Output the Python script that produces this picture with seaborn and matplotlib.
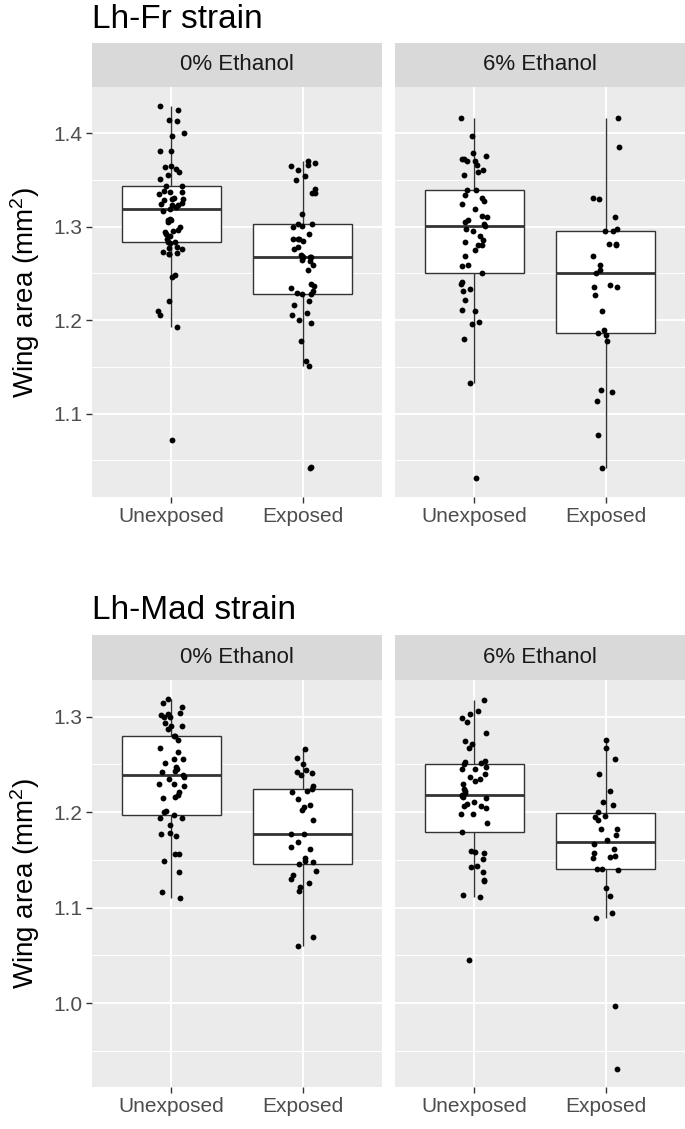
import numpy as np
import pandas as pd
import matplotlib
matplotlib.use("Agg")
import matplotlib.pyplot as plt
import seaborn as sns

# ---------------- data ----------------
groups = ["Unexposed", "Exposed"]
ethanol = ["0% Ethanol", "6% Ethanol"]
strains = ["Lh-Fr strain", "Lh-Mad strain"]
y_label = r"Wing area (mm$^{2}$)"

fr_e0_unexposed = [1.4295, 1.4249, 1.4142, 1.4135, 1.4000, 1.3975, 1.3812, 1.3812, 1.3638, 1.3645,
                   1.3620, 1.3584, 1.3549, 1.3510, 1.3440, 1.3439, 1.3385, 1.3371, 1.3371, 1.3350,
                   1.3307, 1.3300, 1.3290, 1.3297, 1.3250, 1.3243, 1.3229, 1.3236, 1.3210, 1.3194,
                   1.3165, 1.3069, 1.3048, 1.3083, 1.3066, 1.3000, 1.2959, 1.2924, 1.2952, 1.2941,
                   1.2900, 1.2863, 1.2835, 1.2835, 1.2828, 1.2780, 1.2774, 1.2757, 1.2730, 1.2721,
                   1.2703, 1.2703, 1.2483, 1.2462, 1.2206, 1.2092, 1.2057, 1.1928, 1.0721]
fr_e0_exposed = [1.3705, 1.3680, 1.3663, 1.3652, 1.3609, 1.3545, 1.3496, 1.3403, 1.3361, 1.3361,
                 1.3130, 1.3023, 1.2995, 1.3023, 1.3005, 1.2917, 1.2845, 1.2863, 1.2863, 1.2863,
                 1.2785, 1.2757, 1.2693, 1.2686, 1.2675, 1.2675, 1.2675, 1.2639, 1.2632, 1.2586,
                 1.2536, 1.2391, 1.2366, 1.2348, 1.2313, 1.2295, 1.2284, 1.2284, 1.2206, 1.2160,
                 1.2071, 1.2057, 1.2004, 1.1968, 1.1780, 1.1560, 1.1506, 1.0430, 1.0412]
fr_e6_unexposed = [1.4160, 1.3975, 1.3787, 1.3726, 1.3698, 1.3655, 1.3609, 1.3751, 1.3726, 1.3698,
                   1.3584, 1.3549, 1.3396, 1.3396, 1.3343, 1.3307, 1.3272, 1.3243, 1.3190, 1.3119,
                   1.3101, 1.3076, 1.3048, 1.3030, 1.3012, 1.2977, 1.2952, 1.2899, 1.2853, 1.2838,
                   1.2799, 1.2799, 1.2750, 1.2686, 1.2579, 1.2586, 1.2508, 1.2409, 1.2391, 1.2330,
                   1.2306, 1.2217, 1.2110, 1.2099, 1.1975, 1.1957, 1.1798, 1.1329, 1.0306]
fr_e6_exposed = [1.4160, 1.3851, 1.3297, 1.3307, 1.3105, 1.2970, 1.2952, 1.2952, 1.2817, 1.2817,
                 1.2799, 1.2686, 1.2586, 1.2533, 1.2508, 1.2359, 1.2359, 1.2373, 1.2270, 1.2092,
                 1.1897, 1.1858, 1.1844, 1.1773, 1.1247, 1.1229, 1.1130, 1.0774, 1.0419]

mad_e0_unexposed = [1.3190, 1.3138, 1.3097, 1.3041, 1.3017, 1.3028, 1.3000, 1.3000, 1.2931, 1.2897,
                    1.2903, 1.2869, 1.2793, 1.2793, 1.2759, 1.2672, 1.2628, 1.2559, 1.2559, 1.2510,
                    1.2476, 1.2448, 1.2430, 1.2421, 1.2372, 1.2386, 1.2350, 1.2300, 1.2293, 1.2269,
                    1.2207, 1.2155, 1.2179, 1.2145, 1.2017, 1.2007, 1.1966, 1.1938, 1.1938, 1.1862,
                    1.1783, 1.1776, 1.1752, 1.1559, 1.1559, 1.1493, 1.1379, 1.1166, 1.1103]
mad_e0_exposed = [1.2662, 1.2562, 1.2500, 1.2438, 1.2424, 1.2407, 1.2386, 1.2269, 1.2241, 1.2207,
                  1.2224, 1.2138, 1.2079, 1.2059, 1.2028, 1.1921, 1.1776, 1.1769, 1.1690, 1.1638,
                  1.1610, 1.1517, 1.1483, 1.1490, 1.1455, 1.1386, 1.1345, 1.1300, 1.1259, 1.1214,
                  1.1179, 1.0690, 1.0597]
mad_e6_unexposed = [1.3172, 1.3062, 1.3028, 1.2983, 1.2948, 1.2834, 1.2714, 1.2741, 1.2672, 1.2534,
                    1.2524, 1.2510, 1.2500, 1.2476, 1.2455, 1.2455, 1.2400, 1.2372, 1.2345, 1.2328,
                    1.2300, 1.2241, 1.2224, 1.2197, 1.2179, 1.2172, 1.2145, 1.2162, 1.2110, 1.2069,
                    1.2086, 1.2062, 1.2040, 1.1983, 1.1983, 1.1886, 1.1793, 1.1593, 1.1586, 1.1569,
                    1.1507, 1.1441, 1.1431, 1.1379, 1.1276, 1.1293, 1.1110, 1.1131, 1.0448]
mad_e6_exposed = [1.2759, 1.2672, 1.2552, 1.2403, 1.2217, 1.2103, 1.2076, 1.2007, 1.1959, 1.1948,
                  1.1921, 1.1828, 1.1828, 1.1766, 1.1714, 1.1672, 1.1614, 1.1569, 1.1541, 1.1517,
                  1.1528, 1.1403, 1.1403, 1.1393, 1.1207, 1.1121, 1.0948, 1.0890, 0.9966, 0.9317]

fr_major = [1.1, 1.2, 1.3, 1.4]
mad_major = [1.0, 1.1, 1.2, 1.3]

# ---------------- build table ----------------
series = {
    (strains[0], ethanol[0], groups[0]): fr_e0_unexposed,
    (strains[0], ethanol[0], groups[1]): fr_e0_exposed,
    (strains[0], ethanol[1], groups[0]): fr_e6_unexposed,
    (strains[0], ethanol[1], groups[1]): fr_e6_exposed,
    (strains[1], ethanol[0], groups[0]): mad_e0_unexposed,
    (strains[1], ethanol[0], groups[1]): mad_e0_exposed,
    (strains[1], ethanol[1], groups[0]): mad_e6_unexposed,
    (strains[1], ethanol[1], groups[1]): mad_e6_exposed,
}
rows = []
for (s, e, g), vals in series.items():
    for v in vals:
        rows.append({"strain": s, "ethanol": e, "group": g, "area": v})
df = pd.DataFrame(rows)

# ---------------- style ----------------
sns.set_theme(style="white")
plt.rcParams["font.family"] = ["Liberation Sans", "DejaVu Sans"]
plt.rcParams["mathtext.fontset"] = "custom"
plt.rcParams["mathtext.rm"] = "Liberation Sans"
plt.rcParams["mathtext.it"] = "Liberation Sans:italic"
plt.rcParams["mathtext.bf"] = "Liberation Sans:bold"

W, H = 685, 1129
fig = plt.figure(figsize=(W / 100, H / 100), dpi=100)
fig.patch.set_facecolor("white")


def rect(l, t, r, b):
    return [l / W, 1 - b / H, (r - l) / W, (b - t) / H]


cols = [(92, 382), (395, 685)]
row_geo = [
    dict(title_base=28, strip=(43, 87), panel=(87, 497), major=fr_major),
    dict(title_base=619, strip=(635, 680), panel=(680, 1087), major=mad_major),
]

np.random.seed(7)
for ri, strain in enumerate(strains):
    geo = row_geo[ri]
    sub_row = df[df.strain == strain]
    lo, hi = sub_row.area.min(), sub_row.area.max()
    pad = 0.05 * (hi - lo)
    ylim = (lo - pad, hi + pad)
    major = geo["major"]
    minor = [m + 0.05 for m in major] + [major[0] - 0.05]
    minor = [m for m in minor if ylim[0] < m < ylim[1]]

    fig.text(92 / W, 1 - geo["title_base"] / H, strain, fontsize=24,
             color="black", ha="left", va="baseline")

    for ci, eth in enumerate(ethanol):
        l, r = cols[ci]
        st, sb = geo["strip"]
        sax = fig.add_axes(rect(l, st, r, sb))
        sax.set_facecolor("#D9D9D9")
        sax.set_xticks([]); sax.set_yticks([])
        for sp in sax.spines.values():
            sp.set_visible(False)
        sax.text(0.5, 0.5, eth, transform=sax.transAxes, ha="center", va="center",
                 fontsize=16, color="#1A1A1A")

        pt, pb = geo["panel"]
        ax = fig.add_axes(rect(l, pt, r, pb))
        sub = sub_row[sub_row.ethanol == eth]
        sns.boxplot(data=sub, x="group", y="area", order=groups, ax=ax,
                    width=0.75, color="white", linecolor="#333333", linewidth=1.0,
                    showfliers=False, whis=1.5,
                    medianprops=dict(linewidth=2.0),
                    capprops=dict(linewidth=0))
        sns.stripplot(data=sub, x="group", y="area", order=groups, ax=ax,
                      jitter=0.1, color="black", size=4.2, linewidth=0, zorder=5)
        ax.set_facecolor("#EBEBEB")
        ax.set_xlim(-0.6, 1.6)
        ax.set_ylim(*ylim)
        ax.set_yticks(major)
        ax.set_yticks(minor, minor=True)
        ax.set_yticklabels([f"{m:.1f}" for m in major])
        ax.grid(which="major", axis="both", color="white", linewidth=1.4)
        ax.grid(which="minor", axis="y", color="white", linewidth=0.7)
        ax.set_axisbelow(True)
        for sp in ax.spines.values():
            sp.set_visible(False)
        ax.tick_params(axis="both", which="major", length=4, width=1.0,
                       color="#333333", labelcolor="#4D4D4D", labelsize=15, pad=3,
                       bottom=True, left=True)
        ax.tick_params(which="minor", length=0)
        ax.set_xlabel("")
        if ci == 0:
            ax.set_ylabel(y_label, fontsize=20, color="black", labelpad=8)
        else:
            ax.set_ylabel("")
            ax.tick_params(axis="y", left=False, labelleft=False)

fig.savefig("out.png", dpi=100)
